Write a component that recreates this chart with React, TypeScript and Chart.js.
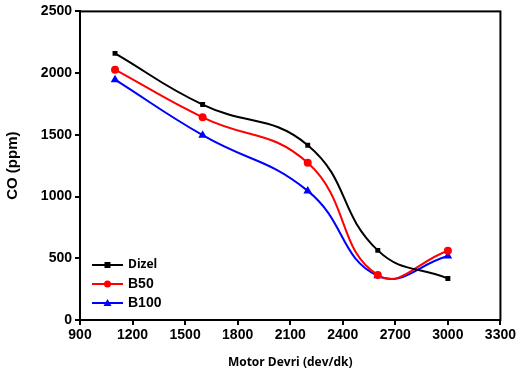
import React, { useEffect, useRef } from "react";
import { Chart, registerables } from "chart.js";

Chart.register(...registerables);

const rpm = [1100, 1600, 2200, 2600, 3000];
const dizel = [2160, 1745, 1416, 564, 337];
const b50 = [2028, 1642, 1273, 364, 561];
const b100 = [1947, 1497, 1046, 358, 518];
const seriesNames = ["Dizel", "B50", "B100"];
const colors = ["#000000", "#ff0000", "#0000ff"];
const markers = ["rect", "circle", "triangle"];

const frame = {
  id: "frame",
  afterDraw(chart: any) {
    const { ctx, chartArea: a } = chart;
    ctx.save();
    ctx.strokeStyle = "#000";
    ctx.lineWidth = 2;
    ctx.strokeRect(a.left, a.top, a.right - a.left, a.bottom - a.top);
    // legend
    const ys = [265, 284, 303];
    for (let i = 0; i < 3; i++) {
      const y = ys[i];
      ctx.strokeStyle = colors[i];
      ctx.lineWidth = 2;
      ctx.beginPath();
      ctx.moveTo(92, y);
      ctx.lineTo(123, y);
      ctx.stroke();
      ctx.fillStyle = colors[i];
      ctx.beginPath();
      if (markers[i] === "rect") {
        ctx.fillRect(104.5, y - 3, 6, 6);
      } else if (markers[i] === "circle") {
        ctx.arc(107.5, y, 3.5, 0, Math.PI * 2);
        ctx.fill();
      } else {
        ctx.moveTo(107.5, y - 4);
        ctx.lineTo(111.5, y + 3);
        ctx.lineTo(103.5, y + 3);
        ctx.closePath();
        ctx.fill();
      }
      ctx.fillStyle = "#000";
      ctx.textBaseline = "middle";
      ctx.textAlign = "left";
      ctx.font = i === 0 ? "bold 12px 'Open Sans'" : "bold 14px 'Liberation Sans'";
      ctx.fillText(seriesNames[i], 128, y);
    }
    ctx.restore();
  },
};

export default function App() {
  const ref = useRef<HTMLCanvasElement>(null);
  useEffect(() => {
    const mk = (vals: number[], i: number) => ({
      label: seriesNames[i],
      data: rpm.map((x, k) => ({ x, y: vals[k] })),
      borderColor: colors[i],
      backgroundColor: colors[i],
      borderWidth: 2,
      pointStyle: markers[i],
      pointRadius: i === 0 ? 3.5 : i === 1 ? 4 : 5,
      pointBorderWidth: 0,
      tension: 0.45,
    });
    const chart = new Chart(ref.current!, {
      type: "line",
      data: { datasets: [mk(dizel, 0), mk(b50, 1), mk(b100, 2)] as any },
      options: {
        animation: false,
        responsive: false,
        layout: { padding: { top: 11, right: 17, left: 0, bottom: 0 } },
        plugins: { legend: { display: false }, tooltip: { enabled: false } },
        scales: {
          x: {
            type: "linear",
            min: 900,
            max: 3300,
            ticks: { stepSize: 300, color: "#000", font: { family: "Liberation Sans", weight: "bold", size: 14 }, padding: 2, callback: (v: any) => String(v) },
            grid: { drawOnChartArea: false, color: "#000", tickLength: 5, lineWidth: 2 },
            border: { color: "#000", width: 2 },
            title: { display: true, text: "Motor Devri (dev/dk)", color: "#000", font: { family: "Open Sans", weight: "bold", size: 12 }, padding: { top: 0, bottom: 6 } },
            afterFit: (s: any) => { s.height = 56; },
          },
          y: {
            min: 0,
            max: 2500,
            ticks: { stepSize: 500, color: "#000", font: { family: "Liberation Sans", weight: "bold", size: 14 }, padding: 3, callback: (v: any) => String(v) },
            grid: { drawOnChartArea: false, color: "#000", tickLength: 5, lineWidth: 2 },
            border: { color: "#000", width: 2 },
            title: { display: true, text: "CO (ppm)", color: "#000", font: { family: "Liberation Sans", weight: "bold", size: 15 }, padding: { top: 4, bottom: 0 } },
            afterFit: (s: any) => { s.width = 80; },
          },
        },
      },
      plugins: [frame],
    });
    return () => chart.destroy();
  }, []);
  return (
    <div style={{ position: "fixed", left: 0, top: 0, width: 518, height: 376, background: "#fff" }}>
      <canvas ref={ref} width={518} height={376} />
    </div>
  );
}
